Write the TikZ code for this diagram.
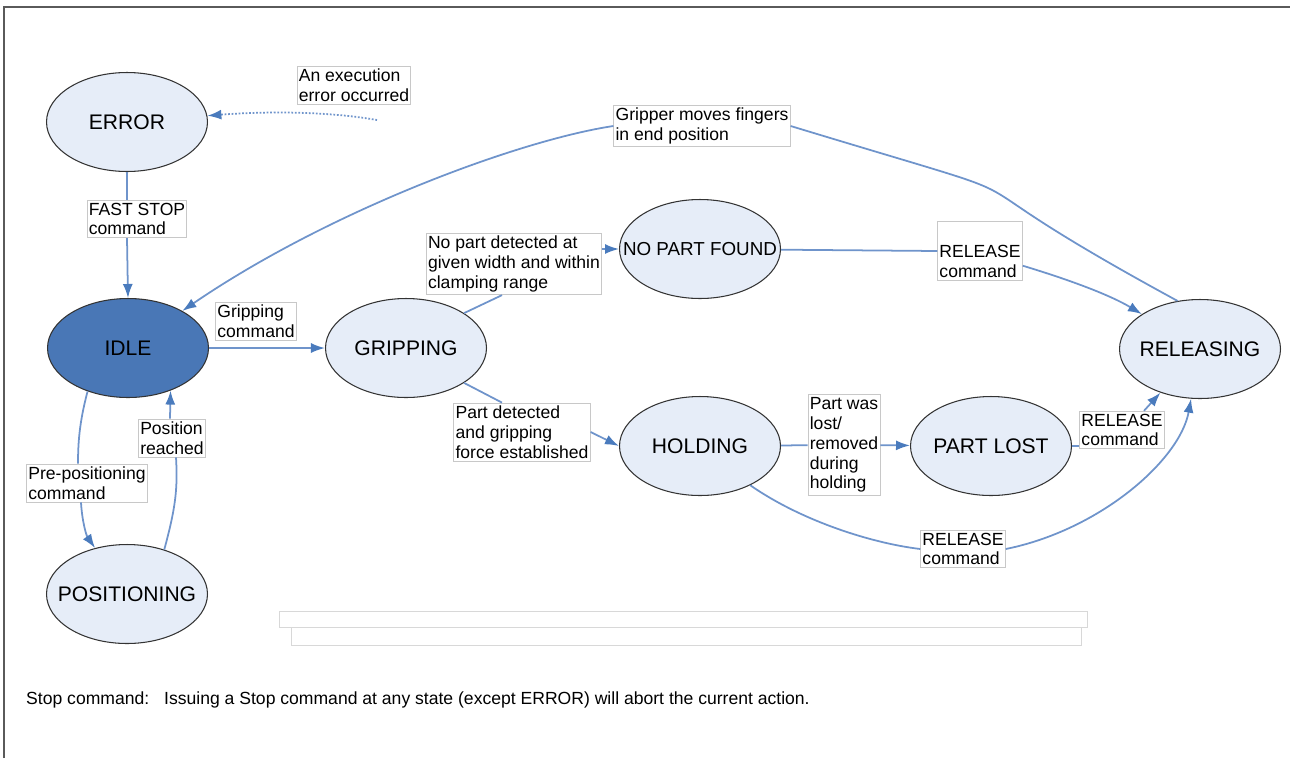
\documentclass[tikz,border=0pt]{standalone}
\usepackage{fontspec}
\setmainfont{Liberation Sans}
\usetikzlibrary{arrows.meta,shapes.geometric,calc}
\definecolor{stateblue}{RGB}{230,237,248}
\definecolor{idleblue}{RGB}{73,119,182}
\definecolor{lineblue}{RGB}{111,148,203}
\definecolor{tipblue}{RGB}{74,123,189}
\definecolor{boxgray}{RGB}{200,200,200}
\definecolor{framegray}{RGB}{90,90,90}

\begin{document}
\begin{tikzpicture}[x=0.02cm,y=-0.02cm,
  state/.style={ellipse,draw=black!80,line width=0.6pt,fill=stateblue,minimum width=3.22cm,minimum height=1.98cm,inner xsep=-16pt,inner ysep=0pt,font=\fontsize{12}{14}\selectfont},
  lbl/.style={rectangle,draw=boxgray,line width=0.5pt,fill=white,align=left,inner xsep=1pt,inner ysep=1.5pt,font=\fontsize{10}{11.3}\selectfont},
  conn/.style={draw=lineblue,line width=1pt},
  arr/.style={conn,-{Latex[length=0.28cm,width=0.2cm,color=tipblue]}}]
\useasboundingbox (0,0) rectangle (1290,758);
\draw[framegray,line width=0.6pt] (4,758) -- (4,7) -- (1290,7);

\foreach \n/\x/\y/\t in {error/127/122/ERROR,pos/127/594/POSITIONING,grip/406/348/GRIPPING,
  hold/700/446/HOLDING,lost/991/446/PART LOST,rel/1200/349/RELEASING}{
  \node[state] (\n) at (\x,\y) {\t};
}
\node[state,fill=idleblue] (idle) at (128,348) {IDLE};
\node[state,font=\fontsize{10.7}{12}\selectfont] (npf) at (700,249) {NO PART FOUND};

\node[lbl] (lexec) at (354,85) {An execution\\error occurred};
\node[lbl] (lfast) at (137,219) {FAST STOP\\command};
\node[lbl] (lgrfin) at (702,126) {Gripper moves fingers\\in end position};
\node[lbl] (lgrcmd) at (256,321) {Gripping\\command};
\node[lbl] (lnopart) at (514,264) {No part detected at\\given width and within\\clamping range};
\node[lbl] (lpart) at (522,432) {Part detected\\and gripping\\force established};
\node[lbl] (lrel1) at (980,251) {\strut\\RELEASE\\command};
\node[lbl] (llost) at (844,445) {Part was\\lost/\\removed\\during\\holding};
\node[lbl] (lrel2) at (1122,430) {RELEASE\\command};
\node[lbl] (lrel3) at (963,549) {RELEASE\\command};
\node[lbl] (lpre) at (87,483) {Pre-positioning\\command};
\node[lbl] (lposr) at (172,438) {Position\\reached};

\coordinate (errsrc) at (377,120);
\draw[arr,dash pattern=on 1pt off 1pt] (errsrc) .. controls (320,110) and (255,112) .. (error);
\draw[conn] (error.south) -- (error.south |- lfast.north);
\draw[arr] (error.south |- lfast.south) -- (idle.north);
\draw[conn] (rel.115) .. controls (900,150) and (1100,220) .. (lgrfin.east);
\draw[arr] (lgrfin.west) .. controls (520,140) and (330,210) .. (idle);
\draw[arr] (idle) -- (grip);
\draw[conn] (grip.31) -- ($(lnopart.south)+(-12,0)$);
\draw[arr] (lnopart.east |- npf) -- (npf);
\draw[conn] (grip.-31) -- ($(lpart.north)+(-20,0)$);
\draw[arr] (lpart.east) -- (hold.west);
\draw[conn] (npf) -- (lrel1.west);
\draw[arr] (lrel1.-19) .. controls (1070,280) and (1110,295) .. (rel);
\draw[conn] (hold) -- (llost);
\draw[arr] (llost) -- (lost);
\draw[conn] (lost.east) -- (lrel2.west |- lost.east);
\draw[arr] ($(lrel2.north)+(22,0)$) -- (rel);
\draw[conn] (hold.-38) .. controls (800,520) and (870,543) .. (lrel3.west);
\draw[arr] (lrel3.east) .. controls (1100,530) and (1180,460) .. (rel);
\draw[conn] (idle.-133) .. controls (80,420) and (78,440) .. ($(lpre.north)+(-9,0)$);
\draw[arr] ($(lpre.south)+(-6,0)$) .. controls (82,520) and (86,535) .. (pos);
\draw[conn] (pos.50) .. controls (175,510) and (178,490) .. ($(lposr.south)+(4,0)$);
\draw[arr] ($(lposr.north)+(-2,0)$) -- (idle.-45);

\draw[boxgray!70,line width=0.5pt] (279,611) rectangle (1087,627);
\draw[boxgray!70,line width=0.5pt] (291,627) rectangle (1081,645);

\node[anchor=west,font=\fontsize{10}{12}\selectfont] (stoplbl) at (20,700) {Stop command:};
\node[anchor=west,font=\fontsize{10}{12}\selectfont] (stoptxt) at (158,700) {Issuing a Stop command at any state (except ERROR) will abort the current action.};
\end{tikzpicture}
\end{document}
